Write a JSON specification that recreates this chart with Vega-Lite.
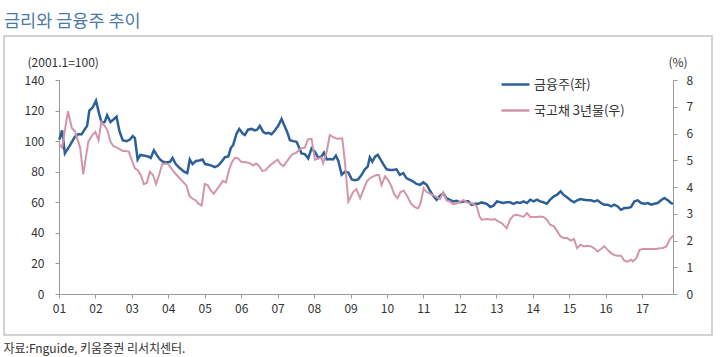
{
  "$schema": "https://vega.github.io/schema/vega-lite/v6.json",
  "width": 708,
  "height": 299,
  "autosize": {"type": "none"},
  "padding": {"left": 4, "top": 36, "right": 8, "bottom": 22},
  "background": "white",
  "config": {
    "font": "Noto Sans CJK KR",
    "view": {"stroke": "#c4c4c4", "strokeWidth": 1.5},
    "axis": {"grid": false, "domainColor": "#9a9a9a", "tickColor": "#9a9a9a", "tickSize": 4, "labelFontSize": 12, "labelColor": "#333333", "titleFontSize": 12, "titleFontWeight": "normal", "titleColor": "#333333"},
    "legend": {"labelFontSize": 13, "labelColor": "#333333", "symbolStrokeWidth": 2.5, "labelOffset": 3, "padding": 0}
  },
  "title": {"text": "금리와 금융주 추이", "anchor": "start", "frame": "group", "fontSize": 17.5, "fontWeight": "normal", "color": "#4a7bab", "offset": 6},
  "datasets": {
    "stock": [
      {"date": "2001-01-04", "v": 101}, {"date": "2001-02-01", "v": 107}, {"date": "2001-03-01", "v": 92}, {"date": "2001-04-19", "v": 97},
      {"date": "2001-06-10", "v": 103}, {"date": "2001-07-13", "v": 104.5}, {"date": "2001-08-16", "v": 104.5}, {"date": "2001-09-19", "v": 108},
      {"date": "2001-10-10", "v": 110}, {"date": "2001-11-01", "v": 120}, {"date": "2001-12-04", "v": 122}, {"date": "2002-01-07", "v": 126.5},
      {"date": "2002-02-07", "v": 118}, {"date": "2002-03-04", "v": 112}, {"date": "2002-04-04", "v": 112.5}, {"date": "2002-04-28", "v": 117},
      {"date": "2002-06-01", "v": 112.5}, {"date": "2002-06-28", "v": 114}, {"date": "2002-08-01", "v": 116}, {"date": "2002-08-28", "v": 107},
      {"date": "2002-10-01", "v": 100.6}, {"date": "2002-11-10", "v": 100}, {"date": "2002-12-13", "v": 101}, {"date": "2003-01-10", "v": 103.3},
      {"date": "2003-02-01", "v": 102}, {"date": "2003-02-28", "v": 88}, {"date": "2003-03-28", "v": 91}, {"date": "2003-05-10", "v": 90.5},
      {"date": "2003-06-13", "v": 90}, {"date": "2003-07-10", "v": 89}, {"date": "2003-08-10", "v": 94}, {"date": "2003-09-07", "v": 91},
      {"date": "2003-10-10", "v": 88}, {"date": "2003-11-10", "v": 86.5}, {"date": "2003-12-16", "v": 86}, {"date": "2004-01-19", "v": 86.5},
      {"date": "2004-02-13", "v": 89}, {"date": "2004-03-16", "v": 85}, {"date": "2004-04-25", "v": 82.4}, {"date": "2004-06-07", "v": 80},
      {"date": "2004-07-10", "v": 79}, {"date": "2004-08-04", "v": 88}, {"date": "2004-09-01", "v": 85}, {"date": "2004-10-04", "v": 87},
      {"date": "2004-11-07", "v": 87.3}, {"date": "2004-12-10", "v": 88}, {"date": "2005-01-04", "v": 85}, {"date": "2005-02-07", "v": 84.5},
      {"date": "2005-03-10", "v": 84}, {"date": "2005-04-13", "v": 83}, {"date": "2005-05-16", "v": 84}, {"date": "2005-06-19", "v": 86.6},
      {"date": "2005-07-22", "v": 89.5}, {"date": "2005-08-25", "v": 90}, {"date": "2005-09-19", "v": 95.5}, {"date": "2005-10-13", "v": 97.5},
      {"date": "2005-11-16", "v": 105}, {"date": "2005-12-13", "v": 108}, {"date": "2006-01-16", "v": 105}, {"date": "2006-02-07", "v": 104},
      {"date": "2006-03-10", "v": 107.5}, {"date": "2006-04-16", "v": 108}, {"date": "2006-05-16", "v": 107}, {"date": "2006-06-10", "v": 107.5},
      {"date": "2006-07-07", "v": 110}, {"date": "2006-08-10", "v": 106}, {"date": "2006-09-07", "v": 105}, {"date": "2006-09-28", "v": 105.5},
      {"date": "2006-11-01", "v": 104.5}, {"date": "2006-12-04", "v": 107}, {"date": "2007-01-07", "v": 110}, {"date": "2007-02-10", "v": 114.5},
      {"date": "2007-03-04", "v": 111}, {"date": "2007-04-07", "v": 106}, {"date": "2007-05-04", "v": 100.6}, {"date": "2007-06-07", "v": 100},
      {"date": "2007-07-10", "v": 99.5}, {"date": "2007-08-04", "v": 96}, {"date": "2007-08-28", "v": 92}, {"date": "2007-10-01", "v": 91.5},
      {"date": "2007-11-04", "v": 88.7}, {"date": "2007-12-07", "v": 95.3}, {"date": "2008-01-10", "v": 93}, {"date": "2008-02-13", "v": 89},
      {"date": "2008-03-16", "v": 90}, {"date": "2008-04-10", "v": 92.5}, {"date": "2008-05-07", "v": 88}, {"date": "2008-06-07", "v": 88.3},
      {"date": "2008-07-10", "v": 88}, {"date": "2008-08-07", "v": 90.5}, {"date": "2008-09-01", "v": 87}, {"date": "2008-10-04", "v": 78},
      {"date": "2008-11-07", "v": 80}, {"date": "2008-12-10", "v": 79.5}, {"date": "2009-01-13", "v": 75}, {"date": "2009-02-16", "v": 74.5},
      {"date": "2009-03-19", "v": 75}, {"date": "2009-04-22", "v": 78}, {"date": "2009-05-25", "v": 81.6}, {"date": "2009-06-22", "v": 83.3},
      {"date": "2009-07-13", "v": 89.4}, {"date": "2009-08-07", "v": 86.6}, {"date": "2009-09-04", "v": 89.8}, {"date": "2009-10-01", "v": 91},
      {"date": "2009-10-22", "v": 88.7}, {"date": "2009-11-25", "v": 85}, {"date": "2009-12-28", "v": 81.6}, {"date": "2010-02-01", "v": 81.2},
      {"date": "2010-03-01", "v": 81.2}, {"date": "2010-04-07", "v": 81.6}, {"date": "2010-05-10", "v": 78}, {"date": "2010-06-13", "v": 79.1},
      {"date": "2010-07-16", "v": 75.8}, {"date": "2010-08-19", "v": 74.6}, {"date": "2010-09-22", "v": 73.6}, {"date": "2010-10-25", "v": 72},
      {"date": "2010-11-28", "v": 71.4}, {"date": "2011-01-01", "v": 73}, {"date": "2011-02-04", "v": 71.4}, {"date": "2011-03-07", "v": 67.7},
      {"date": "2011-04-10", "v": 64.2}, {"date": "2011-05-13", "v": 61.6}, {"date": "2011-06-16", "v": 64.2}, {"date": "2011-07-19", "v": 66},
      {"date": "2011-08-22", "v": 62.5}, {"date": "2011-09-25", "v": 61.5}, {"date": "2011-10-28", "v": 60.6}, {"date": "2011-12-01", "v": 61},
      {"date": "2012-01-04", "v": 60}, {"date": "2012-02-22", "v": 60.6}, {"date": "2012-03-25", "v": 60.6}, {"date": "2012-04-28", "v": 58.4},
      {"date": "2012-06-01", "v": 59}, {"date": "2012-07-04", "v": 59}, {"date": "2012-08-07", "v": 59.9}, {"date": "2012-09-28", "v": 59},
      {"date": "2012-11-01", "v": 56.9}, {"date": "2012-12-04", "v": 57.8}, {"date": "2013-01-07", "v": 60.6}, {"date": "2013-02-10", "v": 60},
      {"date": "2013-03-13", "v": 59.5}, {"date": "2013-04-16", "v": 60}, {"date": "2013-05-19", "v": 60}, {"date": "2013-06-22", "v": 59},
      {"date": "2013-07-25", "v": 60}, {"date": "2013-08-28", "v": 59.5}, {"date": "2013-10-01", "v": 60.6}, {"date": "2013-11-04", "v": 59.5},
      {"date": "2013-12-07", "v": 61.7}, {"date": "2014-01-10", "v": 60.6}, {"date": "2014-02-13", "v": 61.7}, {"date": "2014-03-16", "v": 60.6},
      {"date": "2014-04-19", "v": 60}, {"date": "2014-05-22", "v": 59}, {"date": "2014-06-25", "v": 61.7}, {"date": "2014-08-01", "v": 63.9},
      {"date": "2014-09-04", "v": 65}, {"date": "2014-10-07", "v": 67.2}, {"date": "2014-11-04", "v": 65}, {"date": "2014-12-07", "v": 63.4},
      {"date": "2015-01-16", "v": 61.3}, {"date": "2015-02-19", "v": 60}, {"date": "2015-03-22", "v": 61.3}, {"date": "2015-04-25", "v": 62.1},
      {"date": "2015-05-28", "v": 61.7}, {"date": "2015-07-01", "v": 61.3}, {"date": "2015-08-07", "v": 61.3}, {"date": "2015-09-10", "v": 60.6},
      {"date": "2015-10-13", "v": 61.3}, {"date": "2015-11-16", "v": 59.5}, {"date": "2015-12-19", "v": 58.4}, {"date": "2016-01-22", "v": 58.4},
      {"date": "2016-02-25", "v": 57.3}, {"date": "2016-03-28", "v": 58.4}, {"date": "2016-05-01", "v": 57.3}, {"date": "2016-06-04", "v": 55.1},
      {"date": "2016-07-07", "v": 56.2}, {"date": "2016-08-10", "v": 56.2}, {"date": "2016-09-13", "v": 57}, {"date": "2016-10-16", "v": 60.6},
      {"date": "2016-11-19", "v": 61.3}, {"date": "2016-12-22", "v": 59.5}, {"date": "2017-01-25", "v": 59}, {"date": "2017-02-28", "v": 59.5},
      {"date": "2017-04-01", "v": 58.4}, {"date": "2017-05-04", "v": 59}, {"date": "2017-06-07", "v": 59.5}, {"date": "2017-07-10", "v": 61.3},
      {"date": "2017-08-13", "v": 62.8}, {"date": "2017-09-16", "v": 61.3}, {"date": "2017-10-19", "v": 59.5}, {"date": "2017-11-07", "v": 59}
    ],
    "bond": [
      {"date": "2001-01-04", "v": 5.6}, {"date": "2001-02-01", "v": 5.47}, {"date": "2001-04-01", "v": 6.83}, {"date": "2001-05-10", "v": 6.2},
      {"date": "2001-06-10", "v": 6.08}, {"date": "2001-08-01", "v": 5.47}, {"date": "2001-09-01", "v": 4.47}, {"date": "2001-10-22", "v": 5.7},
      {"date": "2001-12-01", "v": 5.94}, {"date": "2002-01-01", "v": 6.06}, {"date": "2002-02-01", "v": 5.75}, {"date": "2002-03-01", "v": 6.43},
      {"date": "2002-04-01", "v": 6.3}, {"date": "2002-05-01", "v": 6.12}, {"date": "2002-06-01", "v": 5.69}, {"date": "2002-07-01", "v": 5.53},
      {"date": "2002-08-01", "v": 5.48}, {"date": "2002-10-01", "v": 5.35}, {"date": "2002-11-01", "v": 5.35}, {"date": "2002-12-01", "v": 5.32},
      {"date": "2003-01-01", "v": 5.0}, {"date": "2003-02-01", "v": 4.7}, {"date": "2003-03-01", "v": 4.63}, {"date": "2003-04-01", "v": 4.45},
      {"date": "2003-05-01", "v": 4.11}, {"date": "2003-06-01", "v": 4.16}, {"date": "2003-07-01", "v": 4.57}, {"date": "2003-08-01", "v": 4.45},
      {"date": "2003-09-01", "v": 4.11}, {"date": "2003-10-01", "v": 4.45}, {"date": "2003-11-01", "v": 4.85}, {"date": "2003-12-01", "v": 4.88},
      {"date": "2004-01-01", "v": 4.85}, {"date": "2004-02-01", "v": 4.7}, {"date": "2004-03-01", "v": 4.55}, {"date": "2004-04-01", "v": 4.42},
      {"date": "2004-05-01", "v": 4.3}, {"date": "2004-07-01", "v": 4.06}, {"date": "2004-08-01", "v": 3.66}, {"date": "2004-09-01", "v": 3.56},
      {"date": "2004-10-01", "v": 3.5}, {"date": "2004-11-01", "v": 3.37}, {"date": "2004-12-01", "v": 3.31}, {"date": "2005-01-01", "v": 4.11},
      {"date": "2005-02-01", "v": 4.06}, {"date": "2005-03-01", "v": 3.87}, {"date": "2005-04-01", "v": 3.75}, {"date": "2005-06-01", "v": 4.06},
      {"date": "2005-07-01", "v": 4.23}, {"date": "2005-08-01", "v": 4.17}, {"date": "2005-09-01", "v": 4.63}, {"date": "2005-10-01", "v": 4.94},
      {"date": "2005-11-01", "v": 5.1}, {"date": "2005-12-01", "v": 5.07}, {"date": "2006-01-01", "v": 4.94}, {"date": "2006-03-01", "v": 4.92},
      {"date": "2006-04-01", "v": 4.88}, {"date": "2006-05-01", "v": 4.8}, {"date": "2006-06-01", "v": 4.88}, {"date": "2006-07-01", "v": 4.78},
      {"date": "2006-08-01", "v": 4.6}, {"date": "2006-09-01", "v": 4.62}, {"date": "2006-10-01", "v": 4.75}, {"date": "2006-11-01", "v": 4.85},
      {"date": "2006-12-01", "v": 4.94}, {"date": "2007-01-01", "v": 5.02}, {"date": "2007-02-01", "v": 4.85}, {"date": "2007-03-01", "v": 4.78},
      {"date": "2007-05-01", "v": 5.1}, {"date": "2007-06-01", "v": 5.24}, {"date": "2007-07-01", "v": 5.26}, {"date": "2007-08-01", "v": 5.38},
      {"date": "2007-09-01", "v": 5.45}, {"date": "2007-10-01", "v": 5.47}, {"date": "2007-11-01", "v": 5.78}, {"date": "2007-12-07", "v": 5.8},
      {"date": "2008-01-10", "v": 5.02}, {"date": "2008-02-18", "v": 5.07}, {"date": "2008-03-15", "v": 5.1}, {"date": "2008-04-01", "v": 4.89},
      {"date": "2008-05-04", "v": 5.26}, {"date": "2008-06-07", "v": 5.94}, {"date": "2008-07-28", "v": 5.84}, {"date": "2008-08-20", "v": 5.8},
      {"date": "2008-10-10", "v": 5.82}, {"date": "2008-11-07", "v": 4.89}, {"date": "2008-12-10", "v": 3.45}, {"date": "2009-01-28", "v": 3.82},
      {"date": "2009-03-01", "v": 3.92}, {"date": "2009-04-07", "v": 3.58}, {"date": "2009-05-10", "v": 3.89}, {"date": "2009-06-13", "v": 4.2},
      {"date": "2009-07-13", "v": 4.33}, {"date": "2009-08-16", "v": 4.4}, {"date": "2009-09-19", "v": 4.45}, {"date": "2009-10-13", "v": 4.45},
      {"date": "2009-11-07", "v": 4.07}, {"date": "2009-12-13", "v": 4.4}, {"date": "2010-01-13", "v": 4.26}, {"date": "2010-02-16", "v": 4.01},
      {"date": "2010-03-13", "v": 3.74}, {"date": "2010-04-16", "v": 3.58}, {"date": "2010-05-19", "v": 3.82}, {"date": "2010-06-19", "v": 3.86},
      {"date": "2010-07-22", "v": 3.66}, {"date": "2010-09-01", "v": 3.37}, {"date": "2010-10-04", "v": 3.26}, {"date": "2010-11-07", "v": 3.2},
      {"date": "2010-12-04", "v": 3.39}, {"date": "2011-01-04", "v": 3.95}, {"date": "2011-02-01", "v": 3.82}, {"date": "2011-03-07", "v": 3.75},
      {"date": "2011-04-10", "v": 3.7}, {"date": "2011-05-13", "v": 3.62}, {"date": "2011-06-16", "v": 3.55}, {"date": "2011-07-19", "v": 3.8},
      {"date": "2011-08-22", "v": 3.5}, {"date": "2011-09-25", "v": 3.45}, {"date": "2011-10-25", "v": 3.36}, {"date": "2011-12-01", "v": 3.38},
      {"date": "2012-02-07", "v": 3.52}, {"date": "2012-03-25", "v": 3.4}, {"date": "2012-05-13", "v": 3.38}, {"date": "2012-06-19", "v": 3.28},
      {"date": "2012-07-16", "v": 2.9}, {"date": "2012-08-07", "v": 2.78}, {"date": "2012-09-28", "v": 2.8}, {"date": "2012-11-16", "v": 2.78},
      {"date": "2012-12-19", "v": 2.8}, {"date": "2013-01-22", "v": 2.71}, {"date": "2013-02-25", "v": 2.65}, {"date": "2013-03-28", "v": 2.53},
      {"date": "2013-04-16", "v": 2.46}, {"date": "2013-05-19", "v": 2.78}, {"date": "2013-06-22", "v": 2.93}, {"date": "2013-07-25", "v": 2.96},
      {"date": "2013-08-28", "v": 2.92}, {"date": "2013-10-01", "v": 2.88}, {"date": "2013-11-04", "v": 3.03}, {"date": "2013-12-07", "v": 2.88},
      {"date": "2014-01-10", "v": 2.88}, {"date": "2014-02-13", "v": 2.88}, {"date": "2014-03-16", "v": 2.9}, {"date": "2014-04-19", "v": 2.88},
      {"date": "2014-05-22", "v": 2.78}, {"date": "2014-06-25", "v": 2.59}, {"date": "2014-08-01", "v": 2.53}, {"date": "2014-09-04", "v": 2.34},
      {"date": "2014-10-07", "v": 2.15}, {"date": "2014-11-10", "v": 2.09}, {"date": "2014-12-13", "v": 2.09}, {"date": "2015-01-16", "v": 2.0},
      {"date": "2015-02-19", "v": 2.05}, {"date": "2015-03-22", "v": 1.71}, {"date": "2015-04-25", "v": 1.84}, {"date": "2015-05-28", "v": 1.78},
      {"date": "2015-07-01", "v": 1.8}, {"date": "2015-08-07", "v": 1.78}, {"date": "2015-09-10", "v": 1.71}, {"date": "2015-10-13", "v": 1.59},
      {"date": "2015-11-16", "v": 1.68}, {"date": "2015-12-19", "v": 1.78}, {"date": "2016-01-22", "v": 1.65}, {"date": "2016-02-25", "v": 1.53},
      {"date": "2016-03-28", "v": 1.46}, {"date": "2016-05-01", "v": 1.43}, {"date": "2016-06-04", "v": 1.43}, {"date": "2016-07-07", "v": 1.25},
      {"date": "2016-08-10", "v": 1.21}, {"date": "2016-09-13", "v": 1.28}, {"date": "2016-10-01", "v": 1.22}, {"date": "2016-11-04", "v": 1.34},
      {"date": "2016-12-07", "v": 1.65}, {"date": "2017-01-10", "v": 1.68}, {"date": "2017-02-13", "v": 1.68}, {"date": "2017-03-16", "v": 1.68},
      {"date": "2017-04-19", "v": 1.68}, {"date": "2017-05-22", "v": 1.68}, {"date": "2017-06-25", "v": 1.71}, {"date": "2017-07-28", "v": 1.72},
      {"date": "2017-09-01", "v": 1.78}, {"date": "2017-10-04", "v": 2.03}, {"date": "2017-11-07", "v": 2.18}
    ]
  },
  "layer": [
    {
      "data": {"name": "stock"},
      "mark": {"type": "line", "strokeWidth": 2.5},
      "encoding": {
        "x": {
          "field": "date", "type": "temporal",
          "scale": {"domain": [{"year": 2001, "month": 1, "date": 1}, {"year": 2017, "month": 11, "date": 7}], "range": [55, 669]},
          "axis": {
            "offset": -41, "format": "%y", "tickCount": {"interval": "year", "step": 1},
            "labelPadding": 5, "labelFlush": false, "labelOverlap": false,
            "title": "자료:Fnguide, 키움증권 리서치센터.", "titleX": -1, "titleY": 54, "titleAlign": "left", "titleBaseline": "middle"
          }
        },
        "y": {
          "field": "v", "type": "quantitative",
          "scale": {"domain": [0, 140], "range": [258, 44], "nice": false},
          "axis": {"orient": "left", "offset": -55, "values": [0, 20, 40, 60, 80, 100, 120, 140], "labelPadding": 11,
                   "title": "(2001.1=100)", "titleAngle": 0, "titleX": -32, "titleY": 26, "titleAlign": "left", "titleBaseline": "middle"}
        },
        "color": {"datum": "금융주(좌)", "type": "nominal",
                  "scale": {"domain": ["금융주(좌)", "국고채 3년물(우)"], "range": ["#2d6098", "#d395aa"]},
                  "legend": {"title": null, "orient": "none", "legendX": 496, "legendY": 33, "rowPadding": 3, "symbolSize": 784, "symbolType": "stroke"}}
      }
    },
    {
      "data": {"name": "bond"},
      "mark": {"type": "line", "strokeWidth": 2},
      "encoding": {
        "x": {"field": "date", "type": "temporal"},
        "y": {
          "field": "v", "type": "quantitative",
          "scale": {"domain": [0, 8], "range": [258, 44], "nice": false},
          "axis": {"orient": "right", "offset": -39, "values": [0, 1, 2, 3, 4, 5, 6, 7, 8], "labelPadding": 9,
                   "title": "(%)", "titleAngle": 0, "titleX": -5, "titleY": 26, "titleAlign": "left", "titleBaseline": "middle"}
        },
        "color": {"datum": "국고채 3년물(우)", "type": "nominal"}
      }
    }
  ],
  "resolve": {"scale": {"y": "independent"}, "axis": {"y": "independent"}}
}
